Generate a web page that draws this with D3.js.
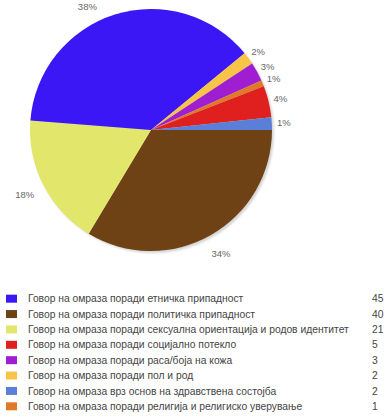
<!DOCTYPE html>
<html>
<head>
<meta charset="utf-8">
<script src="https://cdn.jsdelivr.net/npm/d3@7"></script>
<style>
  body { margin: 0; background: #fff; }
  svg { display: block; font-family: "Liberation Sans", Arial, sans-serif; }
</style>
</head>
<body>
<div id="chart"></div>
<script>
// slice order as drawn, clockwise from 3 o'clock
const categories = [
  'Говор на омраза поради политичка припадност',
  'Говор на омраза поради сексуална ориентација и родов идентитет',
  'Говор на омраза поради етничка припадност',
  'Говор на омраза поради пол и род',
  'Говор на омраза поради раса/боја на кожа',
  'Говор на омраза поради религија и религиско уверување',
  'Говор на омраза поради социјално потекло',
  'Говор на омраза врз основ на здравствена состојба'
];
const values = [40, 21, 45, 2, 3, 1, 5, 2];
const pctLabels = ['34%', '18%', '38%', '2%', '3%', '1%', '4%', '1%'];
const colors = ['#6e4215', '#e2e66a', '#3c17f6', '#f7c447', '#a01ed2', '#e07a2a', '#e0201f', '#5b7fd8'];

const width = 390, height = 420;
const cx = 151, cy = 130, R = 121;

const svg = d3.select('#chart').append('svg')
    .attr('width', width)
    .attr('height', height);

const data = categories.map((c, i) => ({name: c, value: values[i], label: pctLabels[i], color: colors[i]}));
const total = d3.sum(values);

const pie = d3.pie()
    .sort(null)
    .value(d => d.value)
    .startAngle(Math.PI / 2)
    .endAngle(Math.PI / 2 + 2 * Math.PI);

const arc = d3.arc().innerRadius(0).outerRadius(R);

const defs = svg.append('defs');
defs.append('filter').attr('id', 'blur')
  .append('feGaussianBlur').attr('stdDeviation', 1);

const g = svg.append('g').attr('transform', `translate(${cx},${cy})`);

// soft shadow under the pie
g.append('circle')
    .attr('cx', 2).attr('cy', 2).attr('r', R)
    .attr('fill', '#d4d4d4')
    .attr('filter', 'url(#blur)');

const arcs = pie(data);

g.selectAll('path.slice')
  .data(arcs)
  .join('path')
    .attr('class', 'slice')
    .attr('d', arc)
    .attr('fill', d => d.data.color);

// percentage labels outside the pie
g.selectAll('text.pct')
  .data(arcs)
  .join('text')
    .attr('class', 'pct')
    .attr('font-size', 9.5)
    .attr('fill', '#666')
    .attr('text-anchor', 'middle')
    .attr('dominant-baseline', 'central')
    .each(function(d) {
      const a = (d.startAngle + d.endAngle) / 2;
      const dist = d.value / total > 0.1 ? R + 21 : R + 12;
      let x = Math.sin(a) * dist, y = -Math.cos(a) * dist;
      const minY = 6 - cy;
      if (y < minY) {
        y = minY;
        x = Math.sign(x) * Math.sqrt(dist * dist - y * y) * 0.92;
      }
      d3.select(this).attr('x', x).attr('y', y).text(d.data.label);
    });

// legend, sorted by value
const legendData = data.slice().sort((a, b) => b.value - a.value);

const yLeg = d3.scaleBand()
    .domain(legendData.map(d => d.name))
    .range([291, 414]);

const leg = svg.append('g').selectAll('g')
  .data(legendData)
  .join('g')
    .attr('transform', d => `translate(0,${yLeg(d.name) + yLeg.bandwidth() / 2})`);

leg.append('rect')
    .attr('x', 6).attr('y', -4)
    .attr('width', 11).attr('height', 8)
    .attr('fill', d => d.color);

leg.append('text')
    .attr('x', 28)
    .attr('dy', '0.35em')
    .attr('font-size', 10.3)
    .attr('fill', '#444')
    .text(d => d.name);

leg.append('text')
    .attr('x', 372)
    .attr('dy', '0.35em')
    .attr('font-size', 10.3)
    .attr('fill', '#444')
    .text(d => d.value);
</script>
</body>
</html>
